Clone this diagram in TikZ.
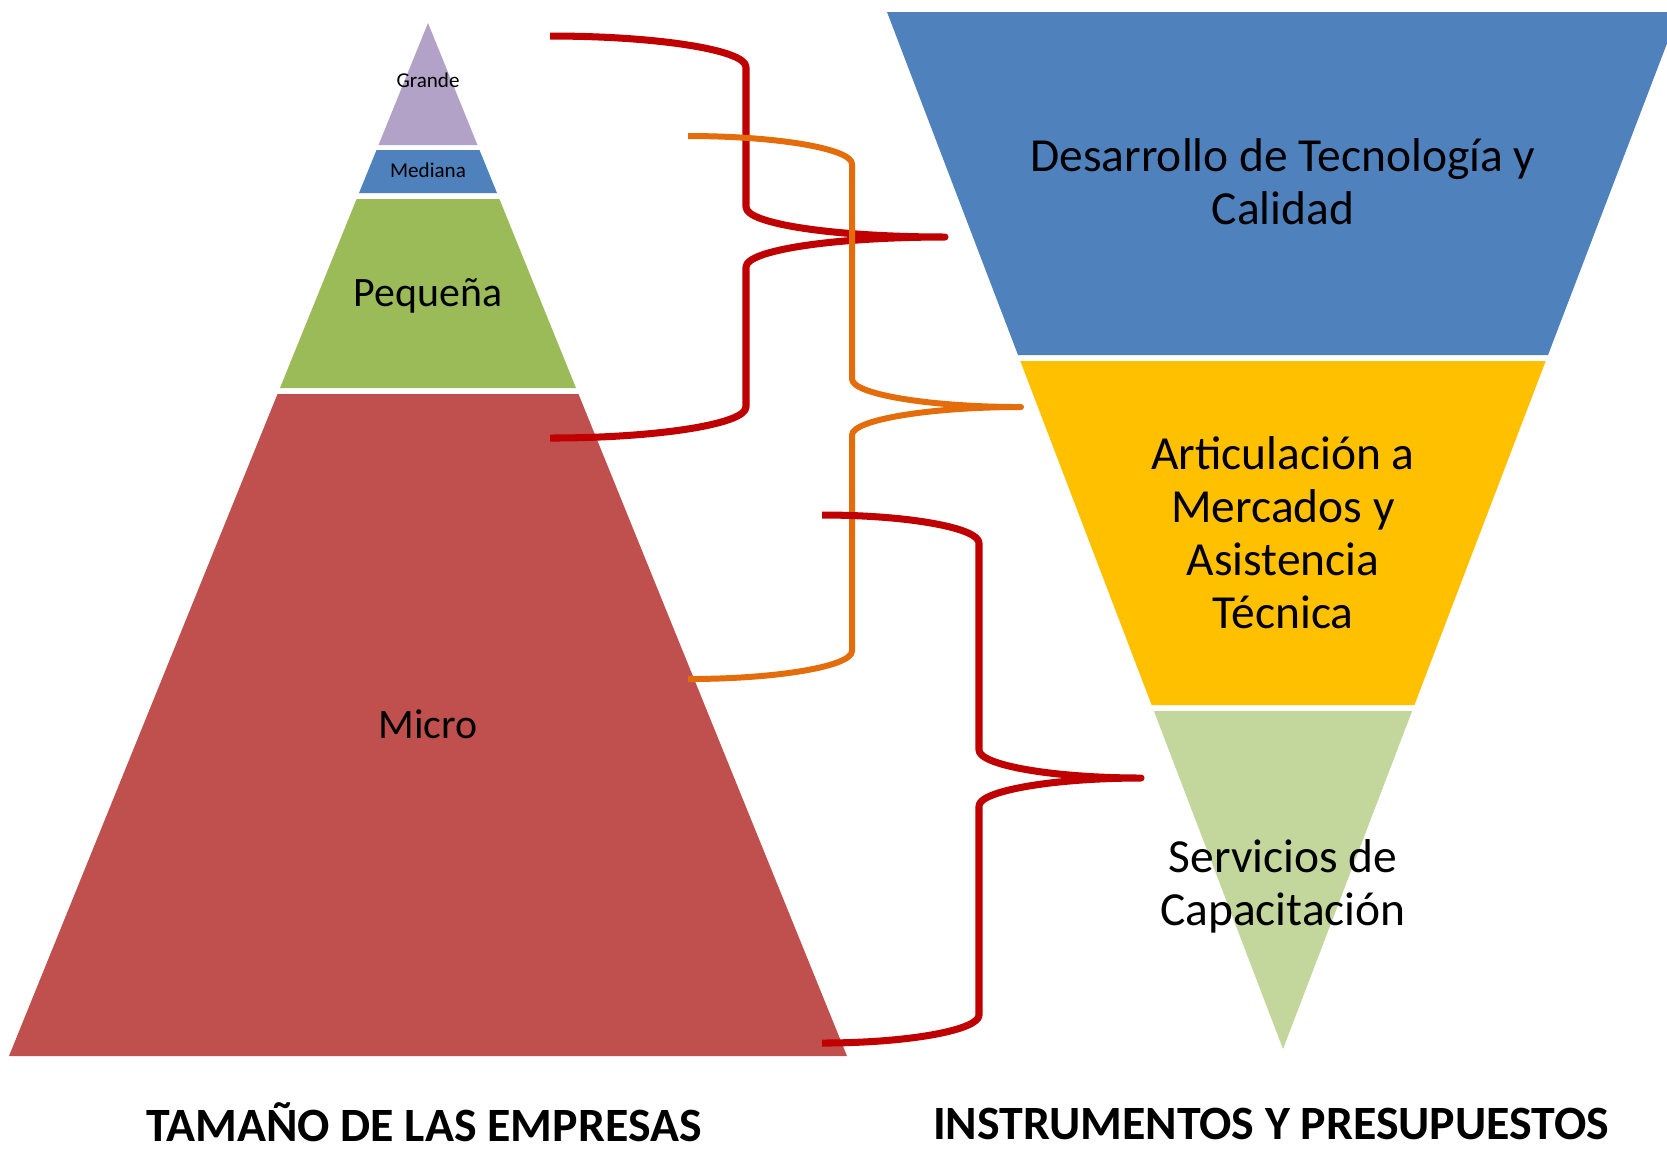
\documentclass[tikz,border=0pt]{standalone}
\usepackage{fontspec}
\setmainfont{Carlito}
\usepackage{tikz}
\definecolor{grande}{HTML}{B2A2C7}
\definecolor{mediana}{HTML}{4F81BD}
\definecolor{pequena}{HTML}{9BBB59}
\definecolor{micro}{HTML}{C0504D}
\definecolor{tecno}{HTML}{4F81BD}
\definecolor{merca}{HTML}{FFC000}
\definecolor{capac}{HTML}{C3D69B}
\definecolor{bred}{HTML}{C00000}
\definecolor{borange}{HTML}{E46C0A}
\tikzstyle{lbl} = [inner sep=0pt, anchor=base, font={\fontsize{11.9}{14}\selectfont}]
\tikzstyle{tiny} = [inner sep=0pt, anchor=base, font={\fontsize{6}{7}\selectfont}]
\tikzstyle{rlbl} = [inner sep=0pt, align=center, font={\fontsize{13.5}{15.1}\selectfont}]
\tikzstyle{title} = [inner sep=0pt, anchor=base, font={\bfseries\fontsize{13.6}{16}\selectfont}]
\tikzstyle{brace} = [line width=2pt, line join=round, color=bred]
\tikzstyle{obrace} = [brace, line width=1.7pt, color=borange]

\begin{document}
\begin{tikzpicture}[x=0.01cm,y=-0.01cm]
        \useasboundingbox (0,0) rectangle (1667,1150);
        % pyramid
        \fill[grande] (428,23) -- (477.5,145) -- (378.5,145) -- cycle;
        \fill[mediana] (376.5,150) -- (479.5,150) -- (497,193) -- (359,193) -- cycle;
        \fill[pequena] (356.6,199) -- (499.4,199) -- (576,388) -- (280,388) -- cycle;
        \fill[micro] (277.5,394) -- (578.5,394) -- (847,1056) -- (9,1056) -- cycle;
        % funnel
        \fill[tecno] (887,12) -- (1667,12) -- (1667,43.4) -- (1548,355) -- (1018,355) -- cycle;
        \fill[merca] (1020.3,361) -- (1545.7,361) -- (1414.4,705) -- (1151.6,705) -- cycle;
        \fill[capac] (1153.9,711) -- (1412.1,711) -- (1283,1049) -- cycle;
        \node[tiny](grande) at (428,87){Grande};
        \node[tiny](mediana) at (428,177){Mediana};
        \node[lbl](pequena) at (428,306){Pequeña};
        \node[lbl](micro) at (428,738){Micro};
        \node[rlbl](tecno) at (1283,182){Desarrollo de Tecnología y\\Calidad};
        \node[rlbl](merca) at (1283,533){Articulación a\\Mercados y\\Asistencia\\Técnica};
        \node[rlbl](capac) at (1283,886){Servicios de\\Capacitación};
        \node[title](tamano) at (424,1141){TAMAÑO DE LAS EMPRESAS};
        \node[title](instr) at (1271,1139){INSTRUMENTOS Y PRESUPUESTOS};
        % braces
        \coordinate (atop) at (550,36);
        \coordinate (atip) at (945,237);
        \coordinate (abot) at (550,438);
        \coordinate (btop) at (688,136);
        \coordinate (btip) at (1021,407);
        \coordinate (bbot) at (688,679);
        \coordinate (ctop) at (822,515);
        \coordinate (ctip) at (1141,778);
        \coordinate (cbot) at (822,1043);
        \draw[brace](atop) .. controls +(108,0) and +(0,-17) .. ++(196,31) -- ++(0,140)
            .. controls +(0,17) and +(-110,0) .. (atip)
            .. controls +(-110,0) and +(0,-17) .. ++(-199,30) -- ++(0,140)
            .. controls +(0,17) and +(108,0) .. (abot);
        \draw[obrace](btop) .. controls +(91,0) and +(0,-15) .. ++(164,28) -- ++(0,215)
            .. controls +(0,15) and +(-93,0) .. (btip)
            .. controls +(-93,0) and +(0,-15) .. ++(-169,28) -- ++(0,216)
            .. controls +(0,15) and +(91,0) .. (bbot);
        \draw[brace](ctop) .. controls +(87,0) and +(0,-15) .. ++(157,28) -- ++(0,207)
            .. controls +(0,15) and +(-89,0) .. (ctip)
            .. controls +(-89,0) and +(0,-15) .. ++(-162,28) -- ++(0,209)
            .. controls +(0,15) and +(87,0) .. (cbot);
      \end{tikzpicture}
\end{document}
